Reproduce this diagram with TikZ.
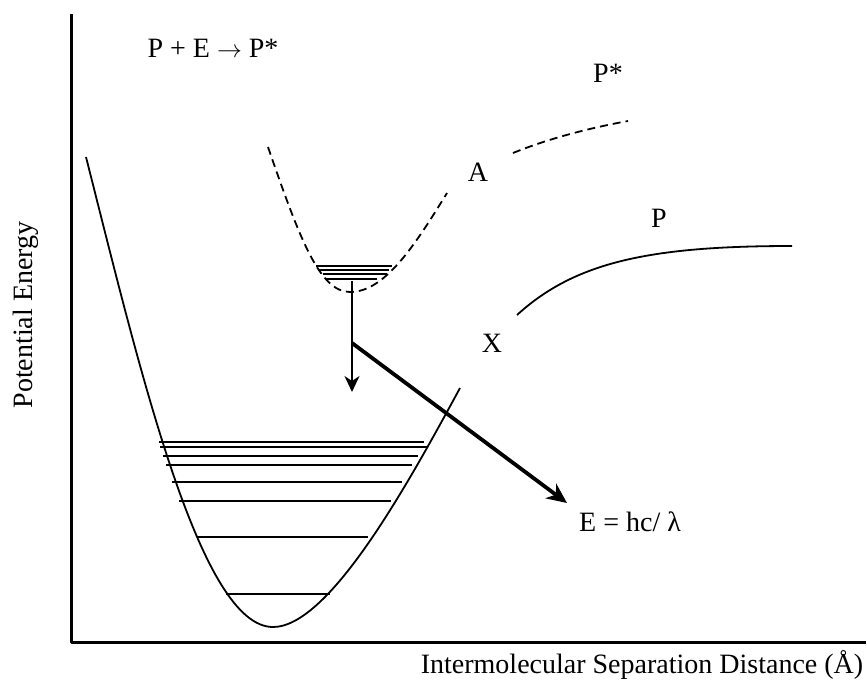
\documentclass[tikz,border=0pt]{standalone}
\usepackage{fontspec}
\setmainfont{Liberation Serif}
\usetikzlibrary{arrows.meta}

\begin{document}
\begin{tikzpicture}[x=1pt, y=-1pt, line join=round,
        curve/.style={line width=1.8pt},
        dashcurve/.style={line width=1.8pt, dash pattern=on 8pt off 5pt},
        level/.style={line width=2.2pt},
        lbl/.style={font=\fontsize{28}{32}\selectfont, inner sep=0pt}]
        \useasboundingbox (0,0) rectangle (867,683);

        \coordinate (O) at (71,642);
        \coordinate (Ytop) at (71,14);
        \coordinate (Xend) at (866,642);
        \coordinate (T) at (352,281);
        \coordinate (Tb) at (352,392);
        \coordinate (K) at (352,343);
        \coordinate (H) at (567,503);

        % axes
        \draw[line width=3pt] (Ytop) -- (O) -- (Xend);

        % ground state X
        \draw[curve] (86,157) .. controls (140,370) and (200,627) .. (273,627)
            .. controls (330,627) and (410,480) .. (460,388);
        \foreach \y/\a/\b in {442/159/424, 447/160/427, 456/163/418, 465/166/412,
            482/172/402, 501/179/391, 537/197/368, 594/226/330}
            \draw[level] (\a,\y) -- (\b,\y);

        % excited state A
        \draw[dashcurve] (268,147) .. controls (300,240) and (320,292) .. (350,292)
            .. controls (385,292) and (415,245) .. (447,193);
        \foreach \y/\a/\b in {266/316/392, 270/318/389, 274/323/387, 279/325/377}
            \draw[level] (\a,\y) -- (\b,\y);

        % dissociated curves
        \draw[dashcurve] (513,153) .. controls (550,138) and (590,128) .. (628,121);
        \draw[curve] (517,315) .. controls (575,262) and (650,246) .. (792,246);

        % transitions
        \draw[line width=2.2pt, -{Stealth[length=16pt, width=15pt, inset=5pt]}] (T) -- (Tb);
        \draw[line width=3.8pt, -{Stealth[length=20pt, width=18pt, inset=6pt]}] (K) -- (H);

        \node[lbl] (react) at (213,48) {P + E $\rightarrow$ P*};
        \node[lbl] (Pstar) at (608,73) {P*};
        \node[lbl] (A) at (478,172) {A};
        \node[lbl] (P) at (659,218) {P};
        \node[lbl] (X) at (492,343) {X};
        \node[lbl] (hv) at (630,522) {E = hc/ λ};
        \node[lbl, rotate=90] (yl) at (26,315) {Potential Energy};
        \node[lbl] (xl) at (642,665) {Intermolecular Separation Distance (Å)};
    \end{tikzpicture}
\end{document}
